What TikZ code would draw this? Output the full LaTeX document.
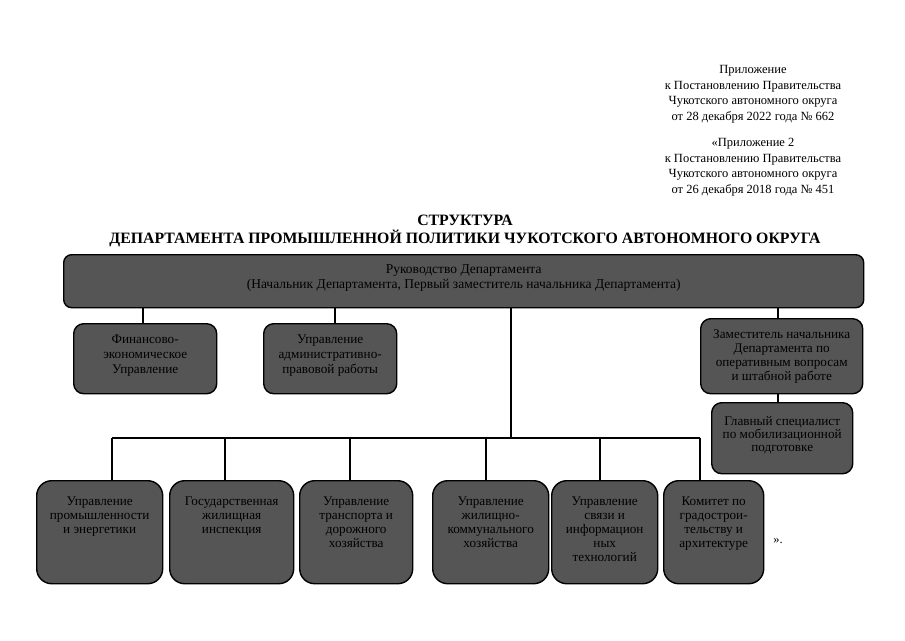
\documentclass[tikz,border=0pt]{standalone}
\usepackage{fontspec}
\setmainfont{Liberation Serif}
\definecolor{boxgray}{RGB}{85,85,85}
\begin{document}
\begin{tikzpicture}[x=1pt,y=-1pt,
  box/.style={draw=black, line width=1.4pt, fill=boxgray, rounded corners=10pt, inner sep=0pt, anchor=north west},
  txt/.style={align=center, font=\fontsize{13.2}{14}\selectfont, text=black, inner sep=0pt},
  hdr/.style={align=center, font=\fontsize{12.5}{15.7}\selectfont, inner sep=0pt},
  conn/.style={line width=1.4pt}]
\useasboundingbox (0,0) rectangle (905,640);
% header
\node[hdr, anchor=north] (h1) at (753,65) {Приложение\\к Постановлению Правительства\\Чукотского автономного округа\\от 28 декабря 2022 года № 662};
\node[hdr, anchor=north] (h2) at (753,138) {«Приложение 2\\к Постановлению Правительства\\Чукотского автономного округа\\от 26 декабря 2018 года № 451};
\node[align=center, font=\bfseries\fontsize{15.8}{18}\selectfont, inner sep=0pt, anchor=north] (title) at (465,215) {СТРУКТУРА\\ДЕПАРТАМЕНТА ПРОМЫШЛЕННОЙ ПОЛИТИКИ ЧУКОТСКОГО АВТОНОМНОГО ОКРУГА};
% top bar
\node[box, rounded corners=8pt, minimum width=800pt, minimum height=53pt] (top) at (63,254) {};
\node[txt, font=\fontsize{13.5}{15}\selectfont] (toptxt) at ([yshift=3pt]top.center) {Руководство Департамента\\(Начальник Департамента, Первый заместитель начальника Департамента)};
% second row
\node[box, minimum width=143pt, minimum height=70pt] (fin) at (73,323) {};
\node[txt, font=\fontsize{13.2}{15}\selectfont] at ([yshift=3pt]fin.center) {Финансово-\\экономическое\\Управление};
\node[box, minimum width=133pt, minimum height=70pt] (adm) at (263,323) {};
\node[txt, font=\fontsize{13.2}{15}\selectfont] at ([yshift=3pt]adm.center) {Управление\\административно-\\правовой работы};
\node[box, minimum width=162pt, minimum height=75pt] (dep) at (700,318) {};
\node[txt] at (dep.center) {Заместитель начальника\\Департамента по\\оперативным вопросам\\и штабной работе};
\node[box, minimum width=141pt, minimum height=71pt] (gl) at (711,402) {};
\node[txt, font=\fontsize{13.2}{13}\selectfont] at ([yshift=2.5pt]gl.center) {Главный специалист\\по мобилизационной\\подготовке};
% bottom row
\node[box, rounded corners=15pt, minimum width=126pt, minimum height=103pt] (b1) at (36,480) {};
\node[box, rounded corners=15pt, minimum width=124pt, minimum height=103pt] (b2) at (169,480) {};
\node[box, rounded corners=15pt, minimum width=113pt, minimum height=103pt] (b3) at (299,480) {};
\node[box, rounded corners=15pt, minimum width=116pt, minimum height=103pt] (b4) at (432,480) {};
\node[box, rounded corners=15pt, minimum width=106pt, minimum height=103pt] (b5) at (551,480) {};
\node[box, rounded corners=15pt, minimum width=100pt, minimum height=103pt] (b6) at (663,480) {};
\node[txt, anchor=north] at ([yshift=-17pt]b1.north) {Управление\\промышленности\\и энергетики};
\node[txt, anchor=north] at ([yshift=-17pt]b2.north) {Государственная\\жилищная\\инспекция};
\node[txt, anchor=north] at ([yshift=-17pt]b3.north) {Управление\\транспорта и\\дорожного\\хозяйства};
\node[txt, anchor=north] at ([yshift=-17pt]b4.north) {Управление\\жилищно-\\коммунального\\хозяйства};
\node[txt, anchor=north] at ([yshift=-17pt]b5.north) {Управление\\связи и\\информацион\\ных\\технологий};
\node[txt, anchor=north] at ([yshift=-17pt]b6.north) {Комитет по\\градострои-\\тельству и\\архитектуре};
\node[font=\fontsize{12.5}{13}\selectfont, inner sep=0pt] (end) at (778,541) {».};
% connectors
\coordinate (t1) at (143,307);
\coordinate (t2) at (335,307);
\coordinate (t3) at (511,307);
\coordinate (t4) at (778,307);
\coordinate (bus) at (511,438);
\draw[conn] (t1) -- (t1 |- fin.north);
\draw[conn] (t2) -- (t2 |- adm.north);
\draw[conn] (t4) -- (t4 |- dep.north);
\draw[conn] (t4 |- dep.south) -- (t4 |- gl.north);
\draw[conn] (t3) -- (bus);
\coordinate (d1) at (112,438);
\coordinate (d2) at (225,438);
\coordinate (d3) at (350,438);
\coordinate (d4) at (486,438);
\coordinate (d5) at (600,438);
\coordinate (d6) at (700,438);
\draw[conn] (d1) -- (d6);
\draw[conn] (d1) -- (d1 |- b1.north);
\draw[conn] (d2) -- (d2 |- b2.north);
\draw[conn] (d3) -- (d3 |- b3.north);
\draw[conn] (d4) -- (d4 |- b4.north);
\draw[conn] (d5) -- (d5 |- b5.north);
\draw[conn] (d6) -- (d6 |- b6.north);
\end{tikzpicture}
\end{document}
